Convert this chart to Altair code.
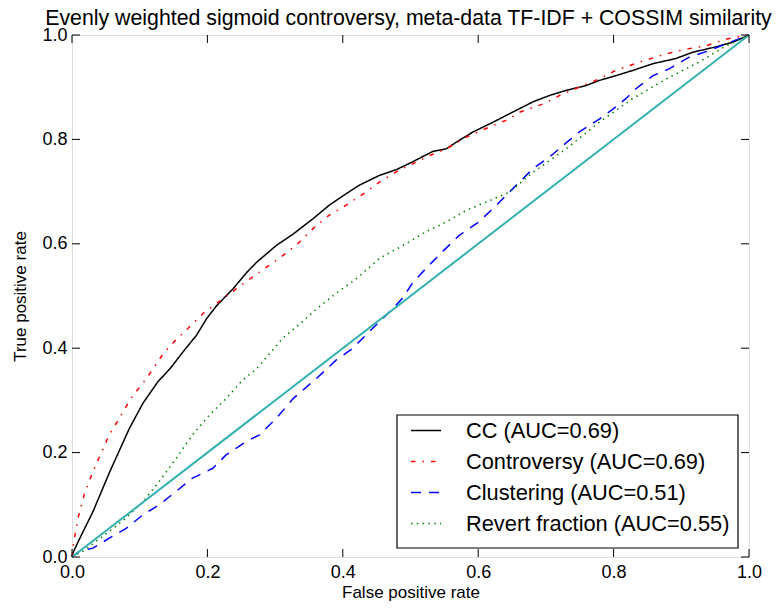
import altair as alt
import pandas as pd

# ---- data ----
series_names = ["CC (AUC=0.69)", "Controversy (AUC=0.69)", "Clustering (AUC=0.51)", "Revert fraction (AUC=0.55)"]
series_colors = ["#000000", "#ff0000", "#0000ff", "#008000"]
series_dashes = [[1, 0], [4.5, 7, 1.5, 7], [10, 8], [1.5, 4.3]]

cc_x = [0, 0.002, 0.015, 0.031, 0.056, 0.085, 0.105, 0.127, 0.145, 0.164, 0.184, 0.199, 0.214, 0.238, 0.258, 0.273, 0.302, 0.327, 0.356, 0.380, 0.405, 0.424, 0.454, 0.479, 0.503, 0.533, 0.553, 0.568, 0.592, 0.622, 0.646, 0.681, 0.705, 0.730, 0.759, 0.779, 0.803, 0.828, 0.858, 0.892, 0.917, 0.947, 0.976, 1.0]
cc_y = [0, 0.010, 0.045, 0.087, 0.164, 0.247, 0.295, 0.336, 0.361, 0.393, 0.425, 0.457, 0.482, 0.514, 0.545, 0.565, 0.597, 0.619, 0.648, 0.674, 0.696, 0.712, 0.731, 0.742, 0.757, 0.777, 0.782, 0.795, 0.814, 0.833, 0.849, 0.872, 0.884, 0.894, 0.903, 0.913, 0.922, 0.932, 0.945, 0.955, 0.967, 0.976, 0.986, 1.0]

con_x = [0, 0.002, 0.009, 0.018, 0.031, 0.041, 0.055, 0.070, 0.087, 0.110, 0.135, 0.152, 0.169, 0.194, 0.220, 0.243, 0.277, 0.306, 0.331, 0.356, 0.380, 0.405, 0.434, 0.454, 0.483, 0.503, 0.528, 0.553, 0.582, 0.617, 0.646, 0.661, 0.696, 0.720, 0.749, 0.779, 0.803, 0.838, 0.878, 0.907, 0.936, 0.966, 1.0]
con_y = [0, 0.024, 0.075, 0.119, 0.164, 0.193, 0.234, 0.266, 0.304, 0.342, 0.390, 0.414, 0.435, 0.467, 0.492, 0.514, 0.546, 0.572, 0.597, 0.629, 0.655, 0.674, 0.699, 0.718, 0.741, 0.753, 0.769, 0.782, 0.804, 0.824, 0.839, 0.852, 0.868, 0.884, 0.900, 0.916, 0.932, 0.948, 0.964, 0.973, 0.979, 0.992, 1.0]

clu_x = [0, 0.011, 0.031, 0.055, 0.080, 0.105, 0.129, 0.154, 0.178, 0.208, 0.228, 0.257, 0.277, 0.302, 0.327, 0.361, 0.390, 0.415, 0.434, 0.459, 0.474, 0.489, 0.503, 0.523, 0.548, 0.572, 0.601, 0.627, 0.656, 0.681, 0.705, 0.725, 0.749, 0.779, 0.799, 0.818, 0.833, 0.858, 0.882, 0.911, 0.941, 0.966, 1.0]
clu_y = [0, 0.011, 0.017, 0.036, 0.055, 0.081, 0.100, 0.126, 0.151, 0.170, 0.196, 0.221, 0.234, 0.266, 0.304, 0.342, 0.377, 0.400, 0.425, 0.457, 0.476, 0.497, 0.525, 0.553, 0.586, 0.616, 0.642, 0.674, 0.712, 0.744, 0.766, 0.788, 0.814, 0.839, 0.858, 0.878, 0.897, 0.922, 0.935, 0.957, 0.970, 0.983, 1.0]

rev_x = [0, 0.016, 0.055, 0.080, 0.105, 0.129, 0.154, 0.178, 0.203, 0.228, 0.252, 0.273, 0.312, 0.335, 0.361, 0.390, 0.420, 0.454, 0.489, 0.523, 0.553, 0.582, 0.612, 0.646, 0.681, 0.730, 0.779, 0.828, 0.878, 0.926, 0.966, 1.0]
rev_y = [0, 0.011, 0.049, 0.075, 0.106, 0.145, 0.189, 0.234, 0.272, 0.304, 0.339, 0.361, 0.420, 0.445, 0.475, 0.505, 0.533, 0.572, 0.597, 0.623, 0.642, 0.664, 0.680, 0.699, 0.737, 0.782, 0.833, 0.878, 0.916, 0.948, 0.979, 1.0]

diag_x = [0.0, 1.0]
diag_y = [0.0, 1.0]

tick_values = [0.0, 0.2, 0.4, 0.6, 0.8, 1.0]

title_text = "Evenly weighted sigmoid controversy, meta-data TF-IDF + COSSIM similarity"

# ---- build tables ----
rows = []
for name, xs, ys in zip(series_names, [cc_x, con_x, clu_x, rev_x], [cc_y, con_y, clu_y, rev_y]):
    for i, (a, b) in enumerate(zip(xs, ys)):
        rows.append({"series": name, "fpr": a, "tpr": b, "i": i})
df = pd.DataFrame(rows)
diag_df = pd.DataFrame({"fpr": diag_x, "tpr": diag_y})
ticks_df = pd.DataFrame({"t": tick_values})

W, H = 677, 522
FONT = "Liberation Sans"

xscale = alt.Scale(domain=[0, 1], nice=False, zero=False)
yscale = alt.Scale(domain=[0, 1], nice=False, zero=False)
xaxis = alt.Axis(values=tick_values, format=".1f", title="False positive rate", grid=False,
                 ticks=False, tickSize=0, domain=False, labelPadding=6, titlePadding=3,
                 labelFontSize=18, titleFontSize=17, labelFlush=False, labelColor="black",
                 titleColor="black", titleFontWeight="normal", labelFont=FONT, titleFont=FONT)
yaxis = alt.Axis(values=tick_values, format=".1f", title="True positive rate", grid=False,
                 ticks=False, tickSize=0, domain=False, labelPadding=5, titlePadding=12,
                 labelFontSize=18, titleFontSize=17, labelFlush=False, labelColor="black",
                 titleColor="black", titleFontWeight="normal", labelFont=FONT, titleFont=FONT)

legend = alt.Legend(title=None, orient="none", legendX=338, legendY=379.5,
                    padding=0, symbolSize=900, symbolStrokeWidth=1.5,
                    symbolType="stroke", rowPadding=3, labelOffset=24,
                    labelFontSize=21.8, labelFont=FONT, labelColor="black",
                    labelLimit=400)

lines = alt.Chart(df).mark_line(strokeWidth=1.5).encode(
    x=alt.X("fpr:Q", scale=xscale, axis=xaxis),
    y=alt.Y("tpr:Q", scale=yscale, axis=yaxis),
    color=alt.Color("series:N", scale=alt.Scale(domain=series_names, range=series_colors),
                    legend=legend),
    strokeDash=alt.StrokeDash("series:N", scale=alt.Scale(domain=series_names, range=series_dashes),
                              legend=legend),
    order="i:Q",
)

diag = alt.Chart(diag_df).mark_line(strokeWidth=2, color="#33b0b0").encode(
    x=alt.X("fpr:Q", scale=xscale, axis=xaxis),
    y=alt.Y("tpr:Q", scale=yscale, axis=yaxis),
)

box = alt.Chart(alt.Data(values=[{"a": 1}])).mark_rect(fill="white", stroke="black", strokeWidth=1.2).encode(
    x=alt.value(325), x2=alt.value(666), y=alt.value(380), y2=alt.value(513)
)

tick_len = 8
bt = alt.Chart(ticks_df).mark_rule(color="black", strokeWidth=1).encode(
    x=alt.X("t:Q", scale=xscale, axis=xaxis), y=alt.value(H), y2=alt.value(H - tick_len))
tt = alt.Chart(ticks_df).mark_rule(color="black", strokeWidth=1).encode(
    x=alt.X("t:Q", scale=xscale, axis=xaxis), y=alt.value(0), y2=alt.value(tick_len))
lt = alt.Chart(ticks_df).mark_rule(color="black", strokeWidth=1).encode(
    y=alt.Y("t:Q", scale=yscale, axis=yaxis), x=alt.value(0), x2=alt.value(tick_len))
rt = alt.Chart(ticks_df).mark_rule(color="black", strokeWidth=1).encode(
    y=alt.Y("t:Q", scale=yscale, axis=yaxis), x=alt.value(W), x2=alt.value(W - tick_len))

chart = alt.layer(lines, diag, box, bt, tt, lt, rt).properties(
    width=W, height=H,
    padding={"left": 64, "top": 27, "right": 26, "bottom": 44},
    autosize=alt.AutoSizeParams(type="none"),
    title=alt.Title(title_text, fontSize=21.3, font=FONT, fontWeight="normal", color="black",
                    anchor="middle", offset=-3, dx=-2),
).configure_view(stroke="black", strokeWidth=1.2).configure(background="white")

chart.save("out.html", embed_options={"renderer": "svg", "actions": False})
